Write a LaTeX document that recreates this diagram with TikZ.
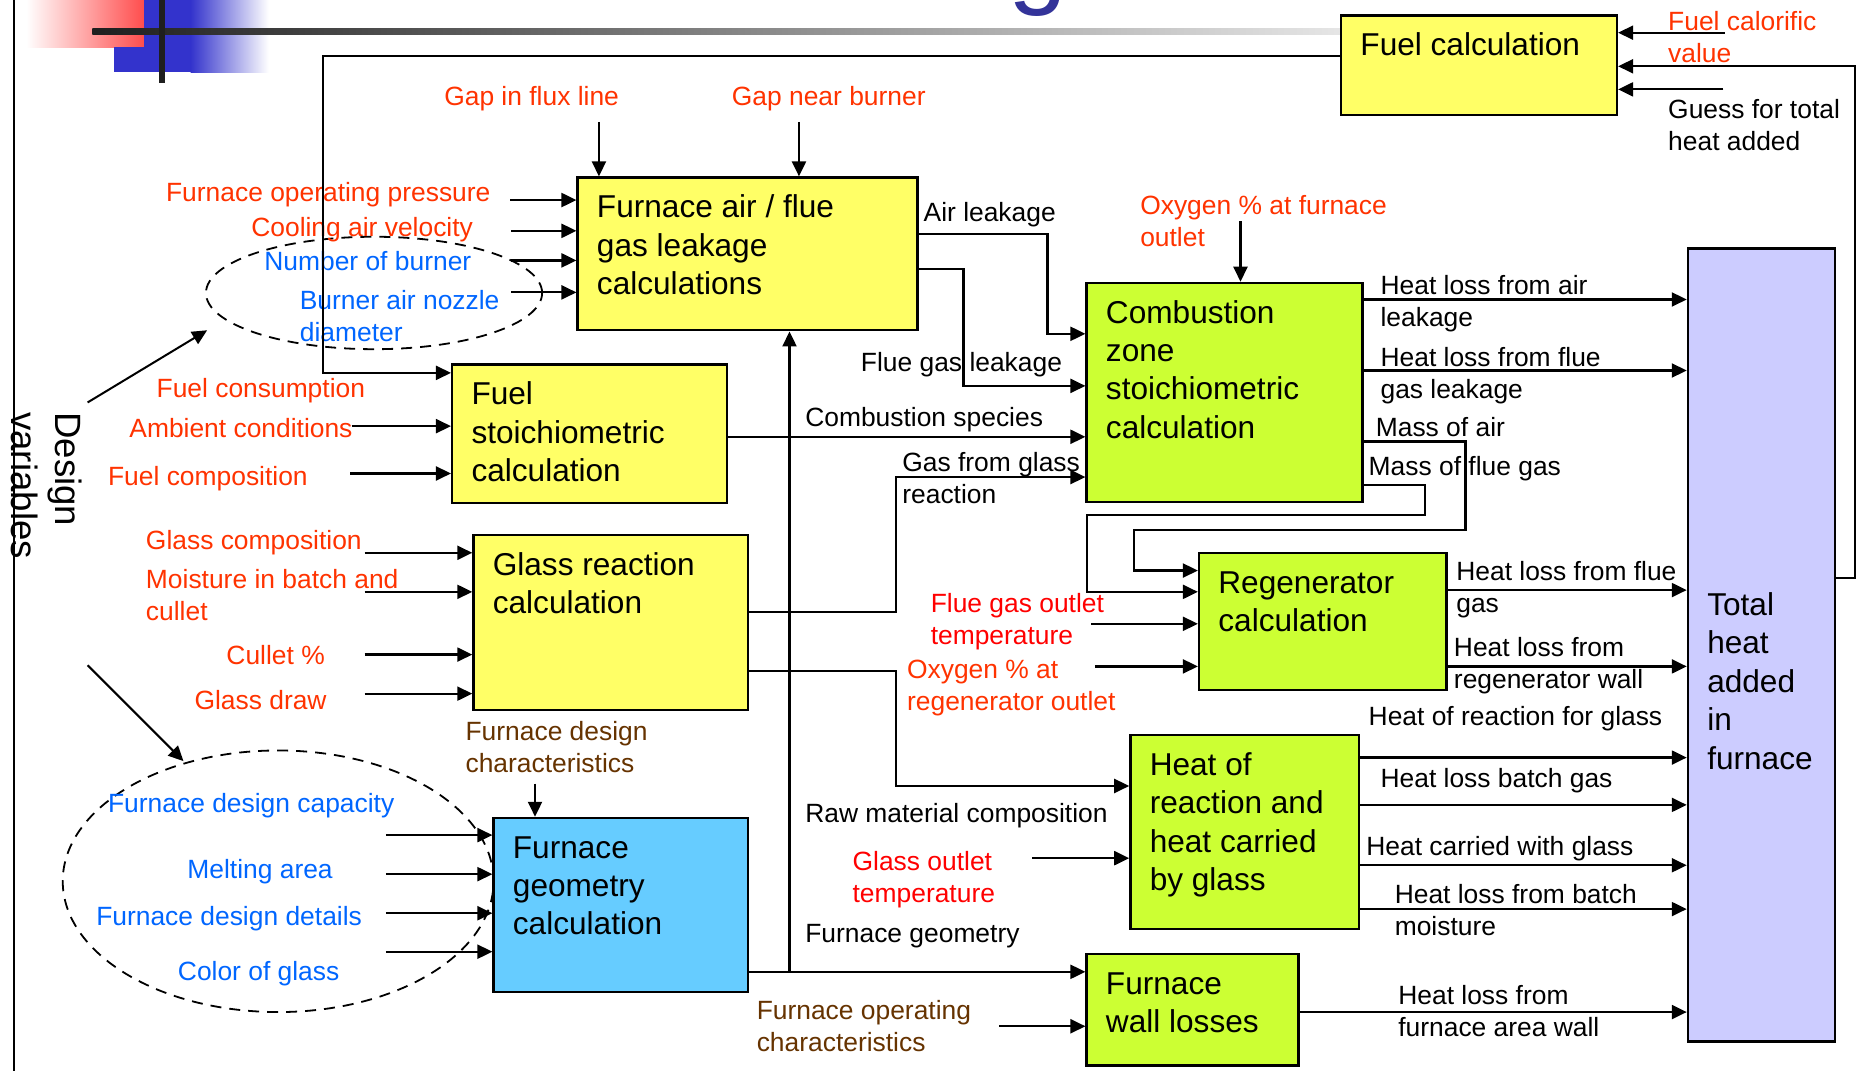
\documentclass[tikz,border=0pt]{standalone}
\usepackage{fontspec}
\setmainfont{Liberation Sans}
\usetikzlibrary{arrows.meta,shapes.geometric}
\newdimen\U \U=0.5918pt
\newcommand\ml[1]{\begin{tabular}[t]{@{}l@{}}#1\end{tabular}}
\definecolor{yel}{HTML}{FFFF66}
\definecolor{grn}{HTML}{CCFF33}
\definecolor{sky}{HTML}{66CCFF}
\definecolor{lav}{HTML}{CCCCFF}
\definecolor{ored}{HTML}{FF3300}
\definecolor{pred}{HTML}{FF0000}
\definecolor{lblue}{HTML}{0066FF}
\definecolor{brn}{HTML}{663300}
\definecolor{ttl}{HTML}{333399}
\definecolor{dblue}{HTML}{3333CC}
% box: name, x1, y1, x2, y2, fill, text
\newcommand\bx[7]{%
  \node[blk, fill=#6, minimum width={(#4-#2)*\U}, minimum height={(#5-#3)*\U}, anchor=north west] (#1) at (#2,#3) {};
  \node[btxt, anchor=base west] (#1t) at ({#2+17},{#3+35}) {\ml{#7}};}
% label: name, x, y(center), colour, text
\newcommand\lb[5]{\node[lbl, text=#4, anchor=base west] (#1) at (#2,{#3+7.5}) {\ml{#5}};}
% input arrows
\newcommand\inH[4]{\coordinate (#1) at (#2,#3); \draw[arr] (#1) -- (#4.west |- #1);}
\newcommand\inE[4]{\coordinate (#1) at (#2,#3); \draw[arr] (#1) -- (#4.east |- #1);}
\newcommand\inV[4]{\coordinate (#1) at (#2,#3); \draw[arr] (#1) -- (#1 |- #4.north);}
\newcommand\outH[2]{\draw[arr] (#1.east |- 0,#2) -- (th.west |- 0,#2);}
\begin{document}
\begin{tikzpicture}[x=0.5918pt, y=-0.5918pt,
  blk/.style={draw=black, line width=1.2pt, rectangle, inner sep=0pt},
  btxt/.style={inner sep=0pt, font=\fontsize{15.8}{19.2}\selectfont},
  lbl/.style={inner sep=0pt, font=\fontsize{13.2}{16}\selectfont},
  arr/.style={line width=1.1pt, -{Triangle[length=7.5pt,width=7pt]}},
  ln/.style={line width=1.1pt},
  dashell/.style={draw, dash pattern=on 5.5pt off 4pt, line width=0.9pt, ellipse, inner sep=0pt}]
\useasboundingbox (0,0) rectangle (1568,905);
\fill[white] (0,0) rectangle (1568,905);
% top-left decoration
\shade[left color=white, right color=red!70] (22,0) rectangle (122,40);
\fill[dblue] (122,0) rectangle (161,61);
\fill[dblue] (96,40) rectangle (122,61);
\shade[left color=dblue, right color=white] (161,0) rectangle (227,61);
\shade[left color=black!88, right color=black!10] (78,24) rectangle (1132,29);
\fill[black!88] (134.5,0) rectangle (139.5,70);
\node[text=ttl, font=\fontsize{53}{60}\selectfont, anchor=base west, inner sep=0pt] (ttlg) at (852,-5) {g};
% left rule
\draw[line width=1.1pt] (12,0) -- (12,905);
% ellipses
\node[dashell, minimum width=284*\U, minimum height=95*\U] (e1) at (316,247.5) {};
\node[dashell, minimum width=364*\U, minimum height=221*\U] (e2) at (235,744.5) {};
% boxes
\bx{fc}{1132}{12}{1365}{96}{yel}{Fuel calculation}
\bx{fa}{487}{149}{774}{278}{yel}{Furnace air / flue\\gas leakage\\calculations}
\bx{fs}{381}{307}{613}{424}{yel}{Fuel\\stoichiometric\\calculation}
\bx{gr}{399}{451}{631}{599}{yel}{Glass reaction\\calculation}
\bx{fg}{416}{690}{631}{837}{sky}{Furnace\\geometry\\calculation}
\bx{cz}{917}{238}{1150}{423}{grn}{Combustion\\zone\\stoichiometric\\calculation}
\bx{rg}{1012}{466}{1221}{582}{grn}{Regenerator\\calculation}
\bx{hr}{954}{620}{1147}{784}{grn}{Heat of\\reaction and\\heat carried\\by glass}
\bx{fw}{917}{805}{1096}{899}{grn}{Furnace\\wall losses}
\node[blk, fill=lav, minimum width={124*\U}, minimum height={670*\U}, anchor=north west] (th) at (1425,209) {};
\node[btxt, anchor=base west] (tht) at (1442,520) {\ml{Total\\heat\\added\\in\\furnace}};
% design variables
\node[font=\fontsize{18.3}{22}\selectfont, rotate=-90, anchor=base west, inner sep=0pt] (dv) at (47,348) {\ml{Design\\variables}};
\coordinate (dvs1) at (74,340); \coordinate (dve1) at (175,279);
\coordinate (dvs2) at (74,562); \coordinate (dve2) at (155,643);
\draw[arr, line width=1pt] (dvs1) -- (dve1);
\draw[arr, line width=1pt] (dvs2) -- (dve2);
% labels
\lb{l1}{375}{82}{ored}{Gap in flux line}
\lb{l2}{618}{82}{ored}{Gap near burner}
\lb{l3}{140}{163}{ored}{Furnace operating pressure}
\lb{l4}{212}{192}{ored}{Cooling air velocity}
\lb{l5}{223}{221}{lblue}{Number of burner}
\lb{l6}{253}{254}{lblue}{Burner air nozzle\\diameter}
\lb{l7}{132}{328}{ored}{Fuel consumption}
\lb{l8}{109}{362}{ored}{Ambient conditions}
\lb{l9}{91}{403}{ored}{Fuel composition}
\lb{l10}{123}{457}{ored}{Glass composition}
\lb{l11}{123}{490}{ored}{Moisture in batch and\\cullet}
\lb{l12}{191}{554}{ored}{Cullet \%}
\lb{l13}{164}{592}{ored}{Glass draw}
\lb{l14}{393}{618}{brn}{Furnace design\\characteristics}
\lb{l15}{91}{679}{lblue}{Furnace design capacity}
\lb{l16}{158}{735}{lblue}{Melting area}
\lb{l17}{81}{774}{lblue}{Furnace design details}
\lb{l18}{150}{821}{lblue}{Color of glass}
\lb{l19}{780}{180}{black}{Air leakage}
\lb{l20}{963}{174}{ored}{Oxygen \% at furnace\\outlet}
\lb{l21}{727}{306}{black}{Flue gas leakage}
\lb{l22}{680}{353}{black}{Combustion species}
\lb{l23}{762}{391}{black}{Gas from glass\\reaction}
\lb{l24}{786}{510}{pred}{Flue gas outlet\\temperature}
\lb{l25}{766}{566}{ored}{Oxygen \% at\\regenerator outlet}
\lb{l26}{680}{687}{black}{Raw material composition}
\lb{l27}{720}{728}{pred}{Glass outlet\\temperature}
\lb{l28}{680}{789}{black}{Furnace geometry}
\lb{l29}{639}{854}{brn}{Furnace operating\\characteristics}
\lb{l30}{1166}{241}{black}{Heat loss from air\\leakage}
\lb{l31}{1166}{302}{black}{Heat loss from flue\\gas leakage}
\lb{l32}{1162}{361}{black}{Mass of air}
\lb{l33}{1156}{394}{black}{Mass of flue gas}
\lb{l34}{1230}{483}{black}{Heat loss from flue\\gas}
\lb{l35}{1228}{547}{black}{Heat loss from\\regenerator wall}
\lb{l36}{1156}{605}{black}{Heat of reaction for glass}
\lb{l37}{1166}{658}{black}{Heat loss batch gas}
\lb{l38}{1154}{715}{black}{Heat carried with glass}
\lb{l39}{1178}{756}{black}{Heat loss from batch\\moisture}
\lb{l40}{1181}{841}{black}{Heat loss from\\furnace area wall}
\lb{l41}{1409}{18}{ored}{Fuel calorific\\value}
\lb{l42}{1409}{93}{black}{Guess for total\\heat added}
% inputs
\inV{a1}{506}{103}{fa}
\inV{a2}{675}{103}{fa}
\inH{a3}{431}{169}{fa}
\inH{a4}{432}{195}{fa}
\inH{a5}{432}{220}{fa}
\inH{a6}{432}{247}{fa}
\inH{a8}{297}{360}{fs}
\inH{a9}{296}{400}{fs}
\inH{a10}{308}{467}{gr}
\inH{a11}{308}{500}{gr}
\inH{a12}{308}{553}{gr}
\inH{a13}{308}{586}{gr}
\inV{a14}{452}{662}{fg}
\inH{a15}{326}{705.5}{fg}
\inH{a16}{326}{738.5}{fg}
\inH{a17}{326}{771.5}{fg}
\inH{a18}{326}{804}{fg}
\inV{a22}{1048}{187}{cz}
\inH{a24}{922}{527}{rg}
\inH{a25}{925}{563}{rg}
\inH{a26}{872}{725}{hr}
\inH{a27}{844}{867}{fw}
\inE{a30}{1457}{27.6}{fc}
\inE{a31}{1456}{75.5}{fc}
% internal connectors
\draw[arr] (fc.west |- 0,47) -- (273,47) -- (273,315) -- (fs.west |- 0,315);
\draw[arr] (fg.east |- 0,821) -- (fw.west |- 0,821);
\draw[arr] (667,821) -- (fa.south -| 667,0);
\draw[arr] (fa.east |- 0,198) -- (885,198) -- (885,282) -- (cz.west |- 0,282);
\draw[arr] (fa.east |- 0,227) -- (814,227) -- (814,326) -- (cz.west |- 0,326);
\draw[arr] (fs.east |- 0,369) -- (cz.west |- 0,369);
\draw[arr] (gr.east |- 0,517) -- (757,517) -- (757,403) -- (cz.west |- 0,403);
\draw[arr] (gr.east |- 0,567) -- (757,567) -- (757,664) -- (hr.west |- 0,664);
\draw[arr] (cz.east |- 0,373) -- (1238,373) -- (1238,448) -- (958,448) -- (958,482) -- (rg.west |- 0,482);
\draw[arr] (cz.east |- 0,410) -- (1204,410) -- (1204,435) -- (918,435) -- (918,500) -- (rg.west |- 0,500);
\draw[arr] (th.east |- 0,488) -- (1567,488) -- (1567,56) -- (fc.east |- 0,56);
% outputs to total
\outH{cz}{253}
\outH{cz}{313}
\outH{rg}{498.5}
\outH{rg}{563}
\outH{hr}{640}
\outH{hr}{680}
\outH{hr}{731}
\outH{hr}{768}
\outH{fw}{855}
\end{tikzpicture}
\end{document}
